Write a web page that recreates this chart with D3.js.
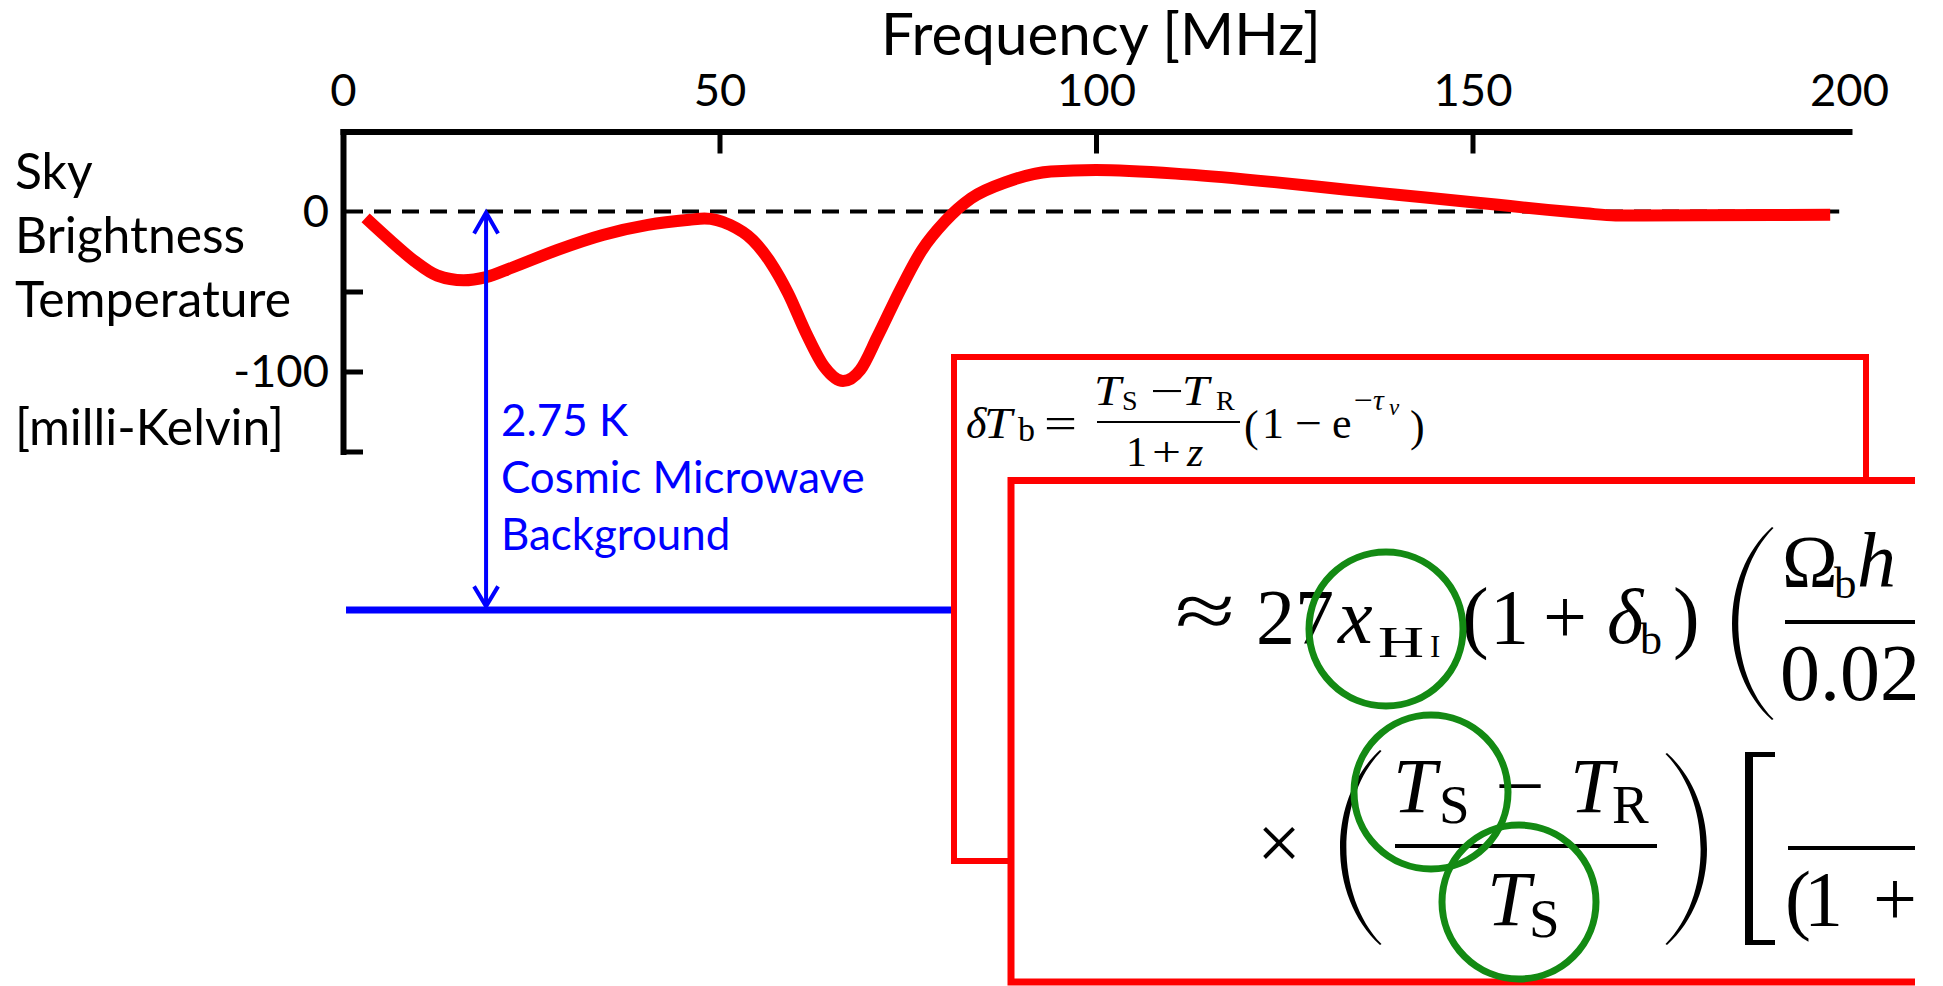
<!DOCTYPE html>
<html>
<head>
<meta charset="utf-8">
<script src="https://cdn.jsdelivr.net/npm/d3@7"></script>
<style>
  body { margin: 0; background: #fff; }
  svg { display: block; }
</style>
</head>
<body>
<div id="vis"></div>
<script>
const width = 1943;
const height = 986;

// global 21-cm signal
const freqMHz = [3, 6.5, 9.5, 12.5, 16, 19, 22.5, 28.5, 34.5, 40.5,
                 46, 48, 51.4, 54.4, 56.8, 59.1, 61.5, 63.9, 66.4, 68.7,
                 71, 74, 76.9, 79.9, 83.4, 88.2, 94, 100, 112, 124,
                 133, 140, 150, 155, 160, 165, 169, 180, 190, 197.5];
const tempMK = [-4, -19, -31, -40, -43, -41, -35, -24, -14.7, -8.4,
                -5.2, -4.4, -8.4, -17.8, -32, -51, -76, -97, -106, -99,
                -78, -49, -24, -6.4, 8.2, 18.6, 25, 26, 23.2, 18.2,
                13.8, 10.5, 5.8, 3.4, 1, -1.1, -2.5, -2.4, -2.2, -2];

const xTicks = [0, 50, 100, 150, 200];
const yTicks = [0, -50, -100, -150];
const yTickLabels = { "0": "0", "-100": "-100" };
const yTitleLines = ["Sky", "Brightness", "Temperature", "", "[milli-Kelvin]"];
const cmbLines = ["2.75 K", "Cosmic Microwave", "Background"];
const cmbArrowFreq = 19;
const cmbLevel = -249;   // drawn schematically, not to scale

const x = d3.scaleLinear().domain([0, 200]).range([343, 1849]);
const y = d3.scaleLinear().domain([-150, 50]).range([451.5, 131.5]);

const sans = "Lato, 'Open Sans', sans-serif";
const serif = "'Liberation Serif', 'Times New Roman', serif";

const svg = d3.select("#vis").append("svg")
    .attr("width", width)
    .attr("height", height)
    .style("font-family", sans);

function fitWidth(sel, target) {
    const w = sel.node().getComputedTextLength();
    const fs = parseFloat(sel.attr("font-size"));
    const nfs = fs * target / w;
    sel.attr("font-size", nfs);
    return nfs;
}

// axes
const xAxis = svg.append("g")
    .attr("transform", `translate(0,${y(50)})`)
    .call(d3.axisTop(x).tickValues(xTicks).tickSizeInner(-22).tickSizeOuter(0)
        .tickPadding(26).tickFormat(d => d));
const yAxis = svg.append("g")
    .attr("transform", `translate(${x(0)},0)`)
    .call(d3.axisLeft(y).tickValues(yTicks).tickSizeInner(-20).tickSizeOuter(0)
        .tickPadding(14).tickFormat(d => yTickLabels[d] || ""));

xAxis.selectAll(".tick").filter(d => d === 0 || d === 200).select("line").remove();
yAxis.selectAll(".tick").filter(d => d === 0).select("line").remove();

[xAxis, yAxis].forEach(a => {
    a.select(".domain").attr("stroke", "#000").attr("stroke-width", 6).attr("stroke-linecap", "square");
    a.selectAll(".tick line").attr("stroke", "#000").attr("stroke-width", 5);
    a.selectAll(".tick text").attr("fill", "#000").attr("font-family", sans).attr("font-size", 50);
});

const ref = xAxis.selectAll(".tick text").filter(d => d === 100);
const tickSize = fitWidth(ref, 79);
svg.selectAll(".tick text").attr("font-size", tickSize);

// zero line
svg.append("line")
    .attr("x1", x(0) + 3).attr("x2", x(198.7))
    .attr("y1", y(0)).attr("y2", y(0))
    .attr("stroke", "#000").attr("stroke-width", 4)
    .attr("stroke-dasharray", "17 11");

// spectrum
const spectrum = freqMHz.map((f, i) => [f, tempMK[i]]);
const line = d3.line().x(d => x(d[0])).y(d => y(d[1])).curve(d3.curveMonotoneX);
svg.append("path")
    .datum(spectrum)
    .attr("d", line)
    .attr("fill", "none")
    .attr("stroke", "#ff0000")
    .attr("stroke-width", 12);

// titles
const title = svg.append("text")
    .attr("x", 1101).attr("y", 55)
    .attr("text-anchor", "middle")
    .attr("font-size", 60)
    .text("Frequency [MHz]");
fitWidth(title, 440);

const yTitle = svg.append("g");
yTitleLines.forEach((t, i) => {
    yTitle.append("text")
        .attr("x", 15).attr("y", 189 + i * 64)
        .attr("font-size", 50)
        .text(t);
});
const ySize = fitWidth(yTitle.selectAll("text").filter((d, i) => i === 2), 276);
yTitle.selectAll("text").attr("font-size", ySize);

// CMB level and arrow
const box1 = { x: 954, y: 357, w: 912, h: 504 };
const box2 = { x: 1011, y: 480.5, w: 1000, h: 501.5 };

svg.append("line")
    .attr("x1", x(0.4)).attr("x2", box1.x)
    .attr("y1", y(cmbLevel)).attr("y2", y(cmbLevel))
    .attr("stroke", "#0000ff").attr("stroke-width", 7);

const ax = x(cmbArrowFreq);
const aTop = y(0) + 1;
const aBot = y(cmbLevel) - 3.5;
const arrow = svg.append("g").attr("stroke", "#0000ff").attr("stroke-width", 4).attr("fill", "none");
arrow.append("line").attr("x1", ax).attr("x2", ax).attr("y1", aTop + 2).attr("y2", aBot - 2);
arrow.append("polyline").attr("points", `${ax - 12},${aTop + 21} ${ax},${aTop} ${ax + 12},${aTop + 21}`);
arrow.append("polyline").attr("points", `${ax - 12},${aBot - 20} ${ax},${aBot} ${ax + 12},${aBot - 20}`);

const cmb = svg.append("g").attr("fill", "#0000ff");
cmbLines.forEach((t, i) => {
    cmb.append("text")
        .attr("x", 501).attr("y", 436 + i * 57)
        .attr("font-size", 46)
        .text(t);
});
const cSize = fitWidth(cmb.selectAll("text").filter((d, i) => i === 1), 364);
cmb.selectAll("text").attr("font-size", cSize);

// equation boxes
function glyph(g, [t, gx, gy, fs, style, len]) {
    const el = g.append("text")
        .attr("x", gx).attr("y", gy)
        .attr("font-size", fs)
        .attr("font-family", serif)
        .attr("font-style", style === "i" ? "italic" : "normal")
        .attr("fill", "#000")
        .text(t);
    if (len) el.attr("textLength", len).attr("lengthAdjust", "spacingAndGlyphs");
}
function bar(g, x1, x2, yy, w) {
    g.append("line").attr("x1", x1).attr("x2", x2).attr("y1", yy).attr("y2", yy)
        .attr("stroke", "#000").attr("stroke-width", w);
}
function paren(g, xEnd, yTop, yBot, bulge, thick) {
    const c = xEnd - 1.333 * bulge;
    const ci = xEnd - 1.333 * (bulge - Math.sign(bulge) * thick);
    const h = yBot - yTop;
    const s = Math.sign(bulge) * 1.5;
    g.append("path")
        .attr("d", `M${xEnd},${yTop} C${c},${yTop + h * 0.25} ${c},${yBot - h * 0.25} ${xEnd},${yBot}` +
            ` L${xEnd + s},${yBot - 1} C${ci},${yBot - h * 0.25} ${ci},${yTop + h * 0.25} ${xEnd + s},${yTop + 1} Z`)
        .attr("fill", "#000");
}

const g1 = svg.append("g");
g1.append("rect")
    .attr("x", box1.x).attr("y", box1.y).attr("width", box1.w).attr("height", box1.h)
    .attr("fill", "#fff").attr("stroke", "#ff0000").attr("stroke-width", 6);

const eq1 = [
    ["δ", 966, 438, 44, "i"], ["T", 984, 438, 44, "i", 28], ["b", 1018, 441, 34],
    ["=", 1044, 438, 44, "", 33],
    ["T", 1094, 405, 42, "i", 27], ["S", 1122, 410, 28], ["−", 1150, 405, 42, "", 34],
    ["T", 1182, 405, 42, "i", 27], ["R", 1216, 410, 28],
    ["1", 1126, 466, 42], ["+", 1152, 466, 42, "", 29], ["z", 1187, 466, 42, "i"],
    ["(", 1244, 441, 44], ["1", 1262, 438, 44], ["−", 1295, 438, 44, "", 27],
    ["e", 1332, 438, 44], ["−", 1354, 410, 30, "", 19], ["τ", 1373, 410, 30, "i"], ["ν", 1389, 415, 23, "i"],
    [")", 1410, 441, 44]
];
eq1.forEach(d => glyph(g1, d));
bar(g1, 1097, 1240, 422, 2);

svg.append("clipPath").attr("id", "crop")
    .append("rect").attr("x", 0).attr("y", 0).attr("width", 1915).attr("height", height);

const g2 = svg.append("g").attr("clip-path", "url(#crop)");
g2.append("rect")
    .attr("x", box2.x).attr("y", box2.y).attr("width", box2.w).attr("height", box2.h)
    .attr("fill", "#fff").attr("stroke", "#ff0000").attr("stroke-width", 7);

const eq2 = [
    ["≈", 1175, 637, 78, "", 60],
    ["27", 1256, 643, 78], ["x", 1338, 643, 78, "i"], ["H", 1378, 657, 44, "", 46], ["I", 1430, 657, 31],
    ["(", 1462, 643, 80], ["1", 1490, 643, 78], ["+", 1543, 643, 78],
    ["δ", 1607, 643, 78, "i"], ["b", 1640, 654, 44], [")", 1673, 643, 80],
    ["Ω", 1782, 587, 75], ["b", 1834, 598, 45], ["h", 1857, 587, 78, "i"],
    ["0.02", 1780, 700, 80],
    ["×", 1257, 869, 78],
    ["T", 1393, 812, 78, "i"], ["S", 1439, 823, 55], ["−", 1495, 812, 78, "", 50],
    ["T", 1570, 812, 78, "i"], ["R", 1612, 823, 55],
    ["T", 1487, 925, 78, "i"], ["S", 1529, 937, 55],
    ["(", 1785, 925, 78], ["1", 1804, 925, 78], ["+", 1873, 925, 78]
];
eq2.forEach(d => glyph(g2, d));
bar(g2, 1785, 1930, 622, 4);
bar(g2, 1395, 1657, 846, 4);
bar(g2, 1788, 1930, 848, 4);
paren(g2, 1772, 527, 720, 40, 6);
paren(g2, 1380, 750, 945, 40, 6);
paren(g2, 1667, 753, 945, -40, 6);
g2.append("path")
    .attr("d", "M1775,752 H1745 V945 H1775 V940 H1753 V757 H1775 Z")
    .attr("fill", "#000");

// highlight rings
const rings = [[1386, 629], [1431, 792], [1519, 902]];
g2.selectAll("circle.ring").data(rings).enter().append("circle")
    .attr("class", "ring")
    .attr("cx", d => d[0]).attr("cy", d => d[1]).attr("r", 77)
    .attr("fill", "none").attr("stroke", "#138a13").attr("stroke-width", 7);
</script>
</body>
</html>
